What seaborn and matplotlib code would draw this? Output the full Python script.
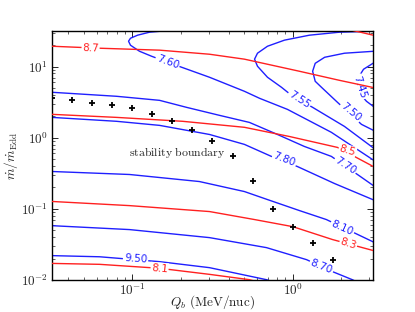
import math
import pandas as pd
import seaborn as sns
import matplotlib.pyplot as plt
from matplotlib.ticker import FuncFormatter

# stability boundary (black crosses)
qb_bound = [0.0316, 0.0422, 0.0562, 0.075, 0.1, 0.133, 0.178, 0.237, 0.316,
            0.422, 0.562, 0.75, 1.0, 1.33, 1.78]
mdot_bound = [3.58, 3.35, 3.04, 2.85, 2.59, 2.13, 1.70, 1.27, 0.89, 0.56,
              0.25, 0.101, 0.056, 0.0335, 0.0193]

# blue contours
q_760 = [0.166, 0.128, 0.108, 0.0975, 0.0948, 0.0975, 0.111, 0.132, 0.166,
         0.203, 0.303, 0.500, 0.621, 0.927, 1.74, 3.2]
m_760 = [32.0, 30.4, 27.6, 25.0, 22.7, 19.95, 16.4, 13.96, 11.5, 9.78, 7.07,
         4.49, 3.58, 2.50, 1.19, 0.48]
q_755 = [3.2, 1.95, 1.27, 0.888, 0.696, 0.603, 0.578, 0.603, 0.696, 0.851,
         0.982, 1.33, 2.10, 3.2]
m_755 = [31.4, 30.4, 27.6, 23.5, 19.3, 15.4, 12.7, 10.1, 7.07, 5.11, 3.94,
         2.67, 1.44, 0.71]
q_750 = [3.2, 2.10, 1.58, 1.38, 1.33, 1.38, 1.51, 1.90, 2.68, 3.2]
m_750 = [16.4, 15.4, 13.5, 11.1, 8.59, 6.21, 5.11, 3.14, 1.54, 1.26]
q_745 = [3.2, 2.76, 2.57, 2.53, 2.64, 2.88, 3.2]
m_745 = [11.3, 9.16, 7.07, 5.45, 4.07, 3.25, 2.72]
q_770 = [0.0316, 0.0798, 0.148, 0.218, 0.350, 0.537, 0.803, 1.18, 1.74,
         2.53, 3.2]
m_770 = [4.35, 3.82, 3.35, 2.67, 2.06, 1.64, 1.11, 0.754, 0.546, 0.304, 0.21]
q_780 = [0.0316, 0.0798, 0.148, 0.303, 0.500, 0.736, 1.07, 1.82, 3.2]
m_780 = [1.93, 1.70, 1.49, 1.11, 0.805, 0.546, 0.393, 0.227, 0.133]
q_810 = [0.0316, 0.0962, 0.262, 0.500, 0.696, 1.10, 1.62, 3.2]
m_810 = [0.335, 0.304, 0.242, 0.175, 0.135, 0.0946, 0.0707, 0.034]
q_870 = [0.0316, 0.0962, 0.303, 0.686, 1.22, 1.77, 2.35, 2.79]
m_870 = [0.058, 0.0511, 0.0394, 0.0285, 0.0193, 0.0131, 0.0101, 0.0083]
q_950 = [0.0316, 0.0626, 0.148, 0.303, 0.686, 0.953]
m_950 = [0.0220, 0.0212, 0.0181, 0.0149, 0.0101, 0.0078]

# red contours
q_r87 = [0.0316, 0.0626, 0.148, 0.303, 0.500, 1.10, 1.95, 3.2]
m_r87 = [19.3, 18.1, 17.0, 14.9, 12.7, 8.59, 6.41, 5.05]
q_r89 = [2.2, 3.3]
m_r89 = [33.5, 27.0]
q_r85 = [0.0316, 0.0798, 0.206, 0.500, 0.953, 1.90, 3.2]
m_r85 = [2.13, 1.93, 1.70, 1.40, 1.04, 0.730, 0.39]
q_r83 = [0.0316, 0.0962, 0.303, 0.578, 1.0, 1.77, 3.2]
m_r83 = [0.127, 0.111, 0.0916, 0.0707, 0.0562, 0.0370, 0.0258]
q_r81 = [0.0316, 0.0626, 0.148, 0.303, 0.537, 0.769]
m_r81 = [0.0171, 0.0166, 0.0146, 0.0120, 0.0101, 0.0081]

blue_lines = [(q_760, m_760), (q_755, m_755), (q_750, m_750), (q_745, m_745),
              (q_770, m_770), (q_780, m_780), (q_810, m_810), (q_870, m_870),
              (q_950, m_950)]
red_lines = [(q_r87, m_r87), (q_r89, m_r89), (q_r85, m_r85), (q_r83, m_r83),
             (q_r81, m_r81)]

# contour labels: text, x, y, rotation
blue_labels = [("7.60", 0.166, 11.6, -20), ("7.55", 1.10, 3.46, -33),
               ("7.50", 2.29, 2.27, -40), ("7.45", 2.60, 5.11, -72),
               ("7.70", 2.13, 0.407, -33), ("7.80", 0.888, 0.495, -21),
               ("8.10", 2.04, 0.0545, -24), ("8.70", 1.51, 0.0155, -22),
               ("9.50", 0.105, 0.0200, -4)]
red_labels = [("8.7", 0.0550, 18.1, -2), ("8.5", 2.19, 0.663, -17),
              ("8.3", 2.22, 0.0324, -18), ("8.1", 0.148, 0.0146, -5)]

sns.set_style("ticks", {"xtick.direction": "in", "ytick.direction": "in"})
plt.rcParams["mathtext.fontset"] = "cm"
plt.rcParams["xtick.top"] = True
plt.rcParams["ytick.right"] = True

fig = plt.figure(figsize=(4.15, 3.12), dpi=100)
ax = fig.add_axes([0.1253, 0.1026, 0.7735, 0.7981])
ax.set_xscale("log")
ax.set_yscale("log")

blue = "#1f1fff"
red = "#ff2020"

for qq, mm in blue_lines:
    sns.lineplot(x=qq, y=mm, sort=False, estimator=None, color=blue, lw=1.0,
                 ax=ax, zorder=2)
for txt, xx, yy, rot in blue_labels:
    ax.text(xx, yy, txt, color=blue, fontsize=7.5, rotation=rot,
            ha="center", va="center", rotation_mode="anchor", zorder=3,
            bbox=dict(fc="white", ec="none", pad=0.8))

for qq, mm in red_lines:
    sns.lineplot(x=qq, y=mm, sort=False, estimator=None, color=red, lw=1.0,
                 ax=ax, zorder=4)
for txt, xx, yy, rot in red_labels:
    ax.text(xx, yy, txt, color=red, fontsize=7.5, rotation=rot,
            ha="center", va="center", rotation_mode="anchor", zorder=5,
            bbox=dict(fc="white", ec="none", pad=0.5))

bound = pd.DataFrame({"qb": qb_bound, "mdot": mdot_bound})
sns.scatterplot(data=bound, x="qb", y="mdot", marker="+", color="k", s=18,
                linewidth=1.3, ax=ax, zorder=6)

ax.text(0.19, 0.62, r"$\mathrm{stability\ boundary}$", fontsize=8.5,
        ha="center", va="center", color="0.15")

ax.set_xlim(10 ** -1.5, 10 ** 0.5)
ax.set_ylim(1e-2, 10 ** 1.5)

fmt = FuncFormatter(lambda v, p: r"$10^{%d}$" % round(math.log10(v)))
ax.xaxis.set_major_formatter(fmt)
ax.yaxis.set_major_formatter(fmt)
ax.tick_params(which="major", length=4, width=0.7, labelsize=9.5, pad=3)
ax.tick_params(axis="x", which="major", pad=2)
ax.tick_params(which="minor", length=2, width=0.5)
for sp in ax.spines.values():
    sp.set_linewidth(1.0)
    sp.set_color("k")

ax.set_xlabel(r"$Q_b\ (\mathrm{MeV/nuc})$", fontsize=9.5)
ax.set_ylabel(r"$\dot{m}/\dot{m}_{\rm Edd}$", fontsize=9.5)
ax.xaxis.set_label_coords(0.5, -0.055)
ax.yaxis.set_label_coords(-0.10, 0.5)

fig.savefig("out.png", dpi=100)
